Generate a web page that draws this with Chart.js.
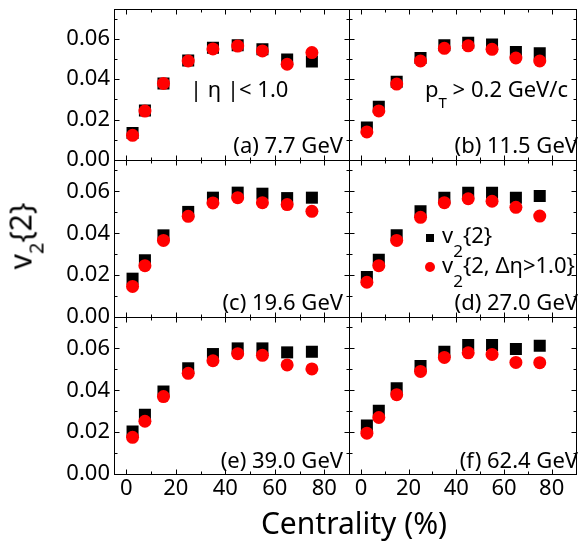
<!DOCTYPE html>
<html>
<head>
<meta charset="utf-8">
<style>
    body {
        margin: 0;
        background: #fff;
    }
    #wrap {
        position: relative;
        width: 584px;
        height: 546px;
        overflow: hidden;
        font-family: 'Noto Sans', sans-serif;
        color: #000;
    }
    #wrap canvas {
        position: absolute;
    }
    .txt {
        position: absolute;
        font-size: 22px;
        line-height: 22px;
        white-space: nowrap;
    }
    .txt sub {
        font-size: 17px;
        line-height: 0;
        vertical-align: -14px;
    }
    .txt sub.t {
        font-size: 15px;
        vertical-align: -11px;
    }
    .mk {
        position: absolute;
    }
    .sq {
        width: 8px;
        height: 8px;
        background: #000;
    }
    .ci {
        width: 10px;
        height: 10px;
        border-radius: 50%;
        background: #ff0000;
    }
    #ytitle {
        position: absolute;
        left: 21px;
        top: 236px;
        font-size: 30px;
        line-height: 30px;
        white-space: nowrap;
        transform: translate(-50%, -50%) rotate(-90deg);
    }
    #ytitle sub {
        font-size: 20px;
        line-height: 0;
        vertical-align: -12px;
    }
    #xtitle {
        position: absolute;
        left: 354px;
        top: 508px;
        font-size: 30px;
        line-height: 30px;
        white-space: nowrap;
        transform: translateX(-50%);
    }
</style>
</head>
<body>
<div id="wrap">
    <canvas id="pa"></canvas>
    <canvas id="pb"></canvas>
    <canvas id="pc"></canvas>
    <canvas id="pd"></canvas>
    <canvas id="pe"></canvas>
    <canvas id="pf"></canvas>

    <!-- panel annotations -->
    <div class="txt" style="left:190px;top:77px">| η |&lt; 1.0</div>
    <div class="txt" style="left:425px;top:77px">p<sub class="t">T</sub> &gt; 0.2 GeV/c</div>

    <div class="txt" style="right:241px;top:133px">(a) 7.7 GeV</div>
    <div class="txt" style="right:6px;top:133px">(b) 11.5 GeV</div>
    <div class="txt" style="right:241px;top:290px">(c) 19.6 GeV</div>
    <div class="txt" style="right:6px;top:290px">(d) 27.0 GeV</div>
    <div class="txt" style="right:241px;top:448px">(e) 39.0 GeV</div>
    <div class="txt" style="right:6px;top:448px">(f) 62.4 GeV</div>

    <!-- legend -->
    <div class="mk sq" style="left:426px;top:234px"></div>
    <div class="txt" style="left:442px;top:223px">v<sub>2</sub>{2}</div>
    <div class="mk ci" style="left:425px;top:262px"></div>
    <div class="txt" style="left:442px;top:253px">v<sub>2</sub>{2, Δη&gt;1.0}</div>

    <div id="ytitle">v<sub>2</sub>{2}</div>
    <div id="xtitle">Centrality (%)</div>
</div>

<script src="https://cdn.jsdelivr.net/npm/chart.js"></script>
<script>
    // centrality bin centres (%)
    const centrality = [2.5, 7.5, 15, 25, 35, 45, 55, 65, 75];
    const xTicks = [0, 20, 40, 60, 80];
    const yTicks = [0, 0.02, 0.04, 0.06];

    // v2{2} and v2{2, dEta>1.0} per beam energy
    const v2_7p7    = [0.0134, 0.0245, 0.0379, 0.0493, 0.0556, 0.0568, 0.0548, 0.0497, 0.0488];
    const v2gap_7p7 = [0.0122, 0.0242, 0.0379, 0.0490, 0.0550, 0.0564, 0.0540, 0.0474, 0.0532];

    const v2_11p5    = [0.0161, 0.0264, 0.0387, 0.0505, 0.0568, 0.0581, 0.0572, 0.0534, 0.0529];
    const v2gap_11p5 = [0.0139, 0.0243, 0.0376, 0.0490, 0.0553, 0.0565, 0.0548, 0.0505, 0.0490];

    const v2_19p6    = [0.0183, 0.0271, 0.0390, 0.0502, 0.0570, 0.0594, 0.0589, 0.0568, 0.0570];
    const v2gap_19p6 = [0.0146, 0.0245, 0.0366, 0.0481, 0.0545, 0.0570, 0.0546, 0.0537, 0.0505];

    const v2_27    = [0.0191, 0.0274, 0.0390, 0.0505, 0.0570, 0.0594, 0.0594, 0.0570, 0.0578];
    const v2gap_27 = [0.0166, 0.0245, 0.0366, 0.0476, 0.0546, 0.0565, 0.0553, 0.0524, 0.0482];

    const v2_39    = [0.0203, 0.0283, 0.0394, 0.0505, 0.0573, 0.0600, 0.0600, 0.0581, 0.0584];
    const v2gap_39 = [0.0175, 0.0252, 0.0370, 0.0481, 0.0541, 0.0575, 0.0567, 0.0521, 0.0502];

    const v2_62p4    = [0.0232, 0.0302, 0.0410, 0.0516, 0.0584, 0.0616, 0.0616, 0.0597, 0.0613];
    const v2gap_62p4 = [0.0195, 0.0270, 0.0379, 0.0490, 0.0557, 0.0579, 0.0571, 0.0533, 0.0532];

    const FONT = "'Noto Sans', sans-serif";
    const W = 584, H = 546;
    // pixel edges of the plot frames
    const colEdges = [[114, 349], [349, 583]];
    const rowEdges = [[2, 160], [160, 317], [317, 474]];

    // frame plus inward ticks on all four sides
    const frameTicks = {
        id: 'frameTicks',
        afterDatasetsDraw(chart) {
            const {ctx, chartArea: a, scales: {x, y}} = chart;
            const l = Math.round(a.left) + 0.5, r = Math.round(a.right) + 0.5;
            const t = Math.round(a.top) + 0.5, b = Math.round(a.bottom) + 0.5;
            ctx.save();
            ctx.strokeStyle = '#000';
            ctx.lineWidth = 1;
            ctx.beginPath();
            for (let v = 0; v < 90; v += 10) {
                const px = Math.round(x.getPixelForValue(v)) + 0.5;
                const len = v % 20 === 0 ? 5 : 3;
                ctx.moveTo(px, b); ctx.lineTo(px, b - len);
                ctx.moveTo(px, t); ctx.lineTo(px, t + len);
            }
            for (let k = 1; k <= 7; k++) {
                const py = Math.round(y.getPixelForValue(k / 100)) + 0.5;
                const len = k % 2 === 0 ? 5 : 3;
                ctx.moveTo(l, py); ctx.lineTo(l + len, py);
                ctx.moveTo(r, py); ctx.lineTo(r - len, py);
            }
            ctx.stroke();
            ctx.strokeRect(l, t, r - l, b - t);
            ctx.restore();
        }
    };

    function panel(id, col, row, v2, v2gap) {
        const [L, R] = colEdges[col];
        const [T, B] = rowEdges[row];
        const cx = col === 0 ? 0 : L - 12;
        const cw = col === 0 ? R + 12 : W - cx;
        const cy = Math.max(0, T - 16);
        const ch = (row === 2 ? H : B + 16) - cy;
        const showX = row === 2, showY = col === 0;

        const canvas = document.getElementById(id);
        canvas.width = cw;
        canvas.height = ch;
        canvas.style.left = cx + 'px';
        canvas.style.top = cy + 'px';

        new Chart(canvas, {
            type: 'scatter',
            data: {
                datasets: [{
                    label: 'v2{2, Δη>1.0}',
                    data: centrality.map((c, i) => ({x: c, y: v2gap[i]})),
                    pointStyle: 'circle',
                    pointRadius: 6.5,
                    backgroundColor: '#ff0000',
                    borderWidth: 0,
                    order: 1
                }, {
                    label: 'v2{2}',
                    data: centrality.map((c, i) => ({x: c, y: v2[i]})),
                    pointStyle: 'rect',
                    pointRadius: 8.5,
                    backgroundColor: '#000',
                    borderWidth: 0,
                    order: 2
                }]
            },
            options: {
                responsive: false,
                animation: false,
                devicePixelRatio: 1,
                layout: {
                    padding: {
                        left: showY ? 0 : L - cx,
                        right: cx + cw - R,
                        top: T - cy,
                        bottom: showX ? 0 : cy + ch - B
                    }
                },
                plugins: {
                    legend: {display: false},
                    tooltip: {enabled: false}
                },
                scales: {
                    x: {
                        type: 'linear',
                        min: -5,
                        max: 90,
                        display: showX,
                        grid: {display: false, drawTicks: false},
                        border: {display: false},
                        ticks: {font: {family: FONT, size: 22}, color: '#000', padding: 2, maxRotation: 0},
                        afterBuildTicks: s => { s.ticks = xTicks.map(v => ({value: v})); },
                        afterFit: s => {
                            if (!showX) return;
                            s.height = cy + ch - B;
                            s.paddingLeft = 0;
                            s.paddingRight = 0;
                        }
                    },
                    y: {
                        type: 'linear',
                        min: 0,
                        max: 0.075,
                        display: showY,
                        grid: {display: false, drawTicks: false},
                        border: {display: false},
                        ticks: {
                            font: {family: FONT, size: 22},
                            color: '#000',
                            padding: 4,
                            callback: v => v.toFixed(2)
                        },
                        afterBuildTicks: s => { s.ticks = yTicks.map(v => ({value: v})); },
                        afterFit: s => {
                            if (!showY) return;
                            s.width = L - cx;
                            s.paddingTop = 0;
                            s.paddingBottom = 0;
                        }
                    }
                }
            },
            plugins: [frameTicks]
        });
    }

    panel('pa', 0, 0, v2_7p7, v2gap_7p7);
    panel('pb', 1, 0, v2_11p5, v2gap_11p5);
    panel('pc', 0, 1, v2_19p6, v2gap_19p6);
    panel('pd', 1, 1, v2_27, v2gap_27);
    panel('pe', 0, 2, v2_39, v2gap_39);
    panel('pf', 1, 2, v2_62p4, v2gap_62p4);
</script>
</body>
</html>
